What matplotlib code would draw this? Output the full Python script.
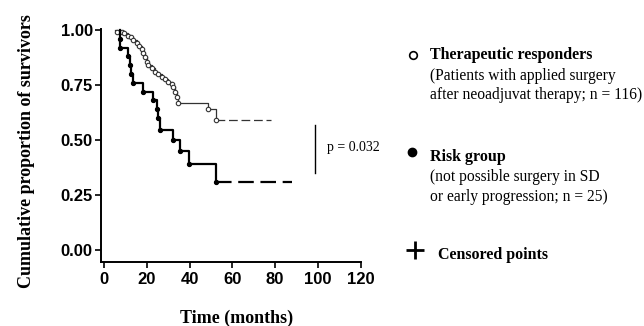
import matplotlib
matplotlib.use("Agg")
import matplotlib.pyplot as plt
from matplotlib.lines import Line2D

# Kaplan-Meier steps (months, survival after each event)
resp_t = [5.9, 8.3, 9.3, 11.4, 12.6, 13.7, 15.3, 16.5, 17.6, 18.4, 19.2, 20.0, 20.7,
          22.3, 23.8, 25.4, 27.0, 28.5, 30.0, 31.6, 32.4, 33.2, 34.0, 34.7, 48.7, 52.6]
resp_s = [0.993, 0.99, 0.985, 0.974, 0.967, 0.955, 0.94, 0.927, 0.914, 0.897, 0.879,
          0.856, 0.841, 0.826, 0.811, 0.80, 0.788, 0.777, 0.765, 0.753, 0.74, 0.72,
          0.697, 0.67, 0.64, 0.59]
resp_start, resp_end = 5.0, 78.0

risk_t = [7.5, 7.5, 11.2, 12.1, 12.6, 13.7, 18.4, 23.0, 24.6, 25.4, 26.2, 32.4,
          35.5, 39.7, 52.6]
risk_s = [0.96, 0.92, 0.88, 0.84, 0.80, 0.76, 0.72, 0.68, 0.64, 0.60, 0.545, 0.50,
          0.45, 0.39, 0.31]
risk_start, risk_end = 7.5, 88.0

x_ticks = [0, 20, 40, 60, 80, 100, 120]
y_ticks = [0.00, 0.25, 0.50, 0.75, 1.00]
p_text = "p = 0.032"

W, H = 644, 326
serif = "Liberation Serif"
sans = "Liberation Sans"


def fx(px):
    return px / W


def fy(py):
    return 1 - py / H


fig = plt.figure(figsize=(W / 100, H / 100), dpi=100)
ax = fig.add_axes([fx(101), fy(262), fx(361) - fx(101), fy(29) - fy(262)])


def km(ax, t, s, start, end, lw, color, mfc, ms):
    xs = [start] + t
    ys = [1.0] + s
    ax.plot(xs, ys, drawstyle="steps-post", color=color, lw=lw, clip_on=False)
    ax.plot([t[-1], end], [s[-1], s[-1]], color=color, lw=lw,
            linestyle=(0, (7, 3)), clip_on=False)
    ax.plot(t, s, linestyle="none", marker="o", ms=ms, mfc=mfc,
            mec=color, mew=0.8, clip_on=False)


km(ax, resp_t, resp_s, resp_start, resp_end, 0.9, "#333333", "white", 3.2)
km(ax, risk_t, risk_s, risk_start, risk_end, 1.6, "black", "black", 3.0)

ax.set_xlim(-1.4, 120.2)
ax.set_ylim(-0.055, 1.005)
ax.set_xticks(x_ticks)
ax.set_yticks(y_ticks)
ax.set_yticklabels([f"{v:.2f}" for v in y_ticks])
for sp in ["top", "right"]:
    ax.spines[sp].set_visible(False)
for sp in ["left", "bottom"]:
    ax.spines[sp].set_linewidth(1.4)
ax.tick_params(length=4, width=1.2, labelsize=12)
ax.tick_params(axis="y", pad=2)
ax.tick_params(axis="x", pad=3)
for lab in ax.get_xticklabels() + ax.get_yticklabels():
    lab.set_fontfamily(sans)
    lab.set_fontweight("bold")

fig.text(fx(27), fy(151), "Cumulative proportion of survivors", rotation=90,
         ha="center", va="center", family=serif, fontweight="bold", fontsize=13)
fig.text(fx(237), fy(318), "Time (months)", ha="center", va="center",
         family=serif, fontweight="bold", fontsize=13)

# p-value bracket
fig.add_artist(Line2D([fx(315), fx(315)], [fy(125), fy(173)], color="black", lw=1))
fig.text(fx(327), fy(148), p_text, ha="left", va="center", family=serif, fontsize=10)

# legend block
fig.add_artist(Line2D([fx(413)], [fy(55)], marker="o", ms=5.5, mfc="white",
                      mec="black", mew=1.2, linestyle="none"))
fig.text(fx(430), fy(55), "Therapeutic responders", ha="left", va="center",
         family=serif, fontweight="bold", fontsize=11.5)
fig.text(fx(430), fy(76), "(Patients with applied surgery", ha="left",
         va="center", family=serif, fontsize=11.2)
fig.text(fx(430), fy(95), "after neoadjuvat therapy; n = 116)", ha="left",
         va="center", family=serif, fontsize=11.2)

fig.add_artist(Line2D([fx(412)], [fy(152)], marker="o", ms=6, mfc="black",
                      mec="black", linestyle="none"))
fig.text(fx(430), fy(157), "Risk group", ha="left", va="center",
         family=serif, fontweight="bold", fontsize=11.5)
fig.text(fx(430), fy(177), "(not possible surgery in SD", ha="left",
         va="center", family=serif, fontsize=11.2)
fig.text(fx(430), fy(197), "or early progression; n = 25)", ha="left",
         va="center", family=serif, fontsize=11.2)

fig.add_artist(Line2D([fx(415)], [fy(250)], marker="+", ms=13, mec="black",
                      mew=2, linestyle="none"))
fig.text(fx(438), fy(255), "Censored points", ha="left", va="center",
         family=serif, fontweight="bold", fontsize=11.5)

fig.savefig("out.png", dpi=100)
